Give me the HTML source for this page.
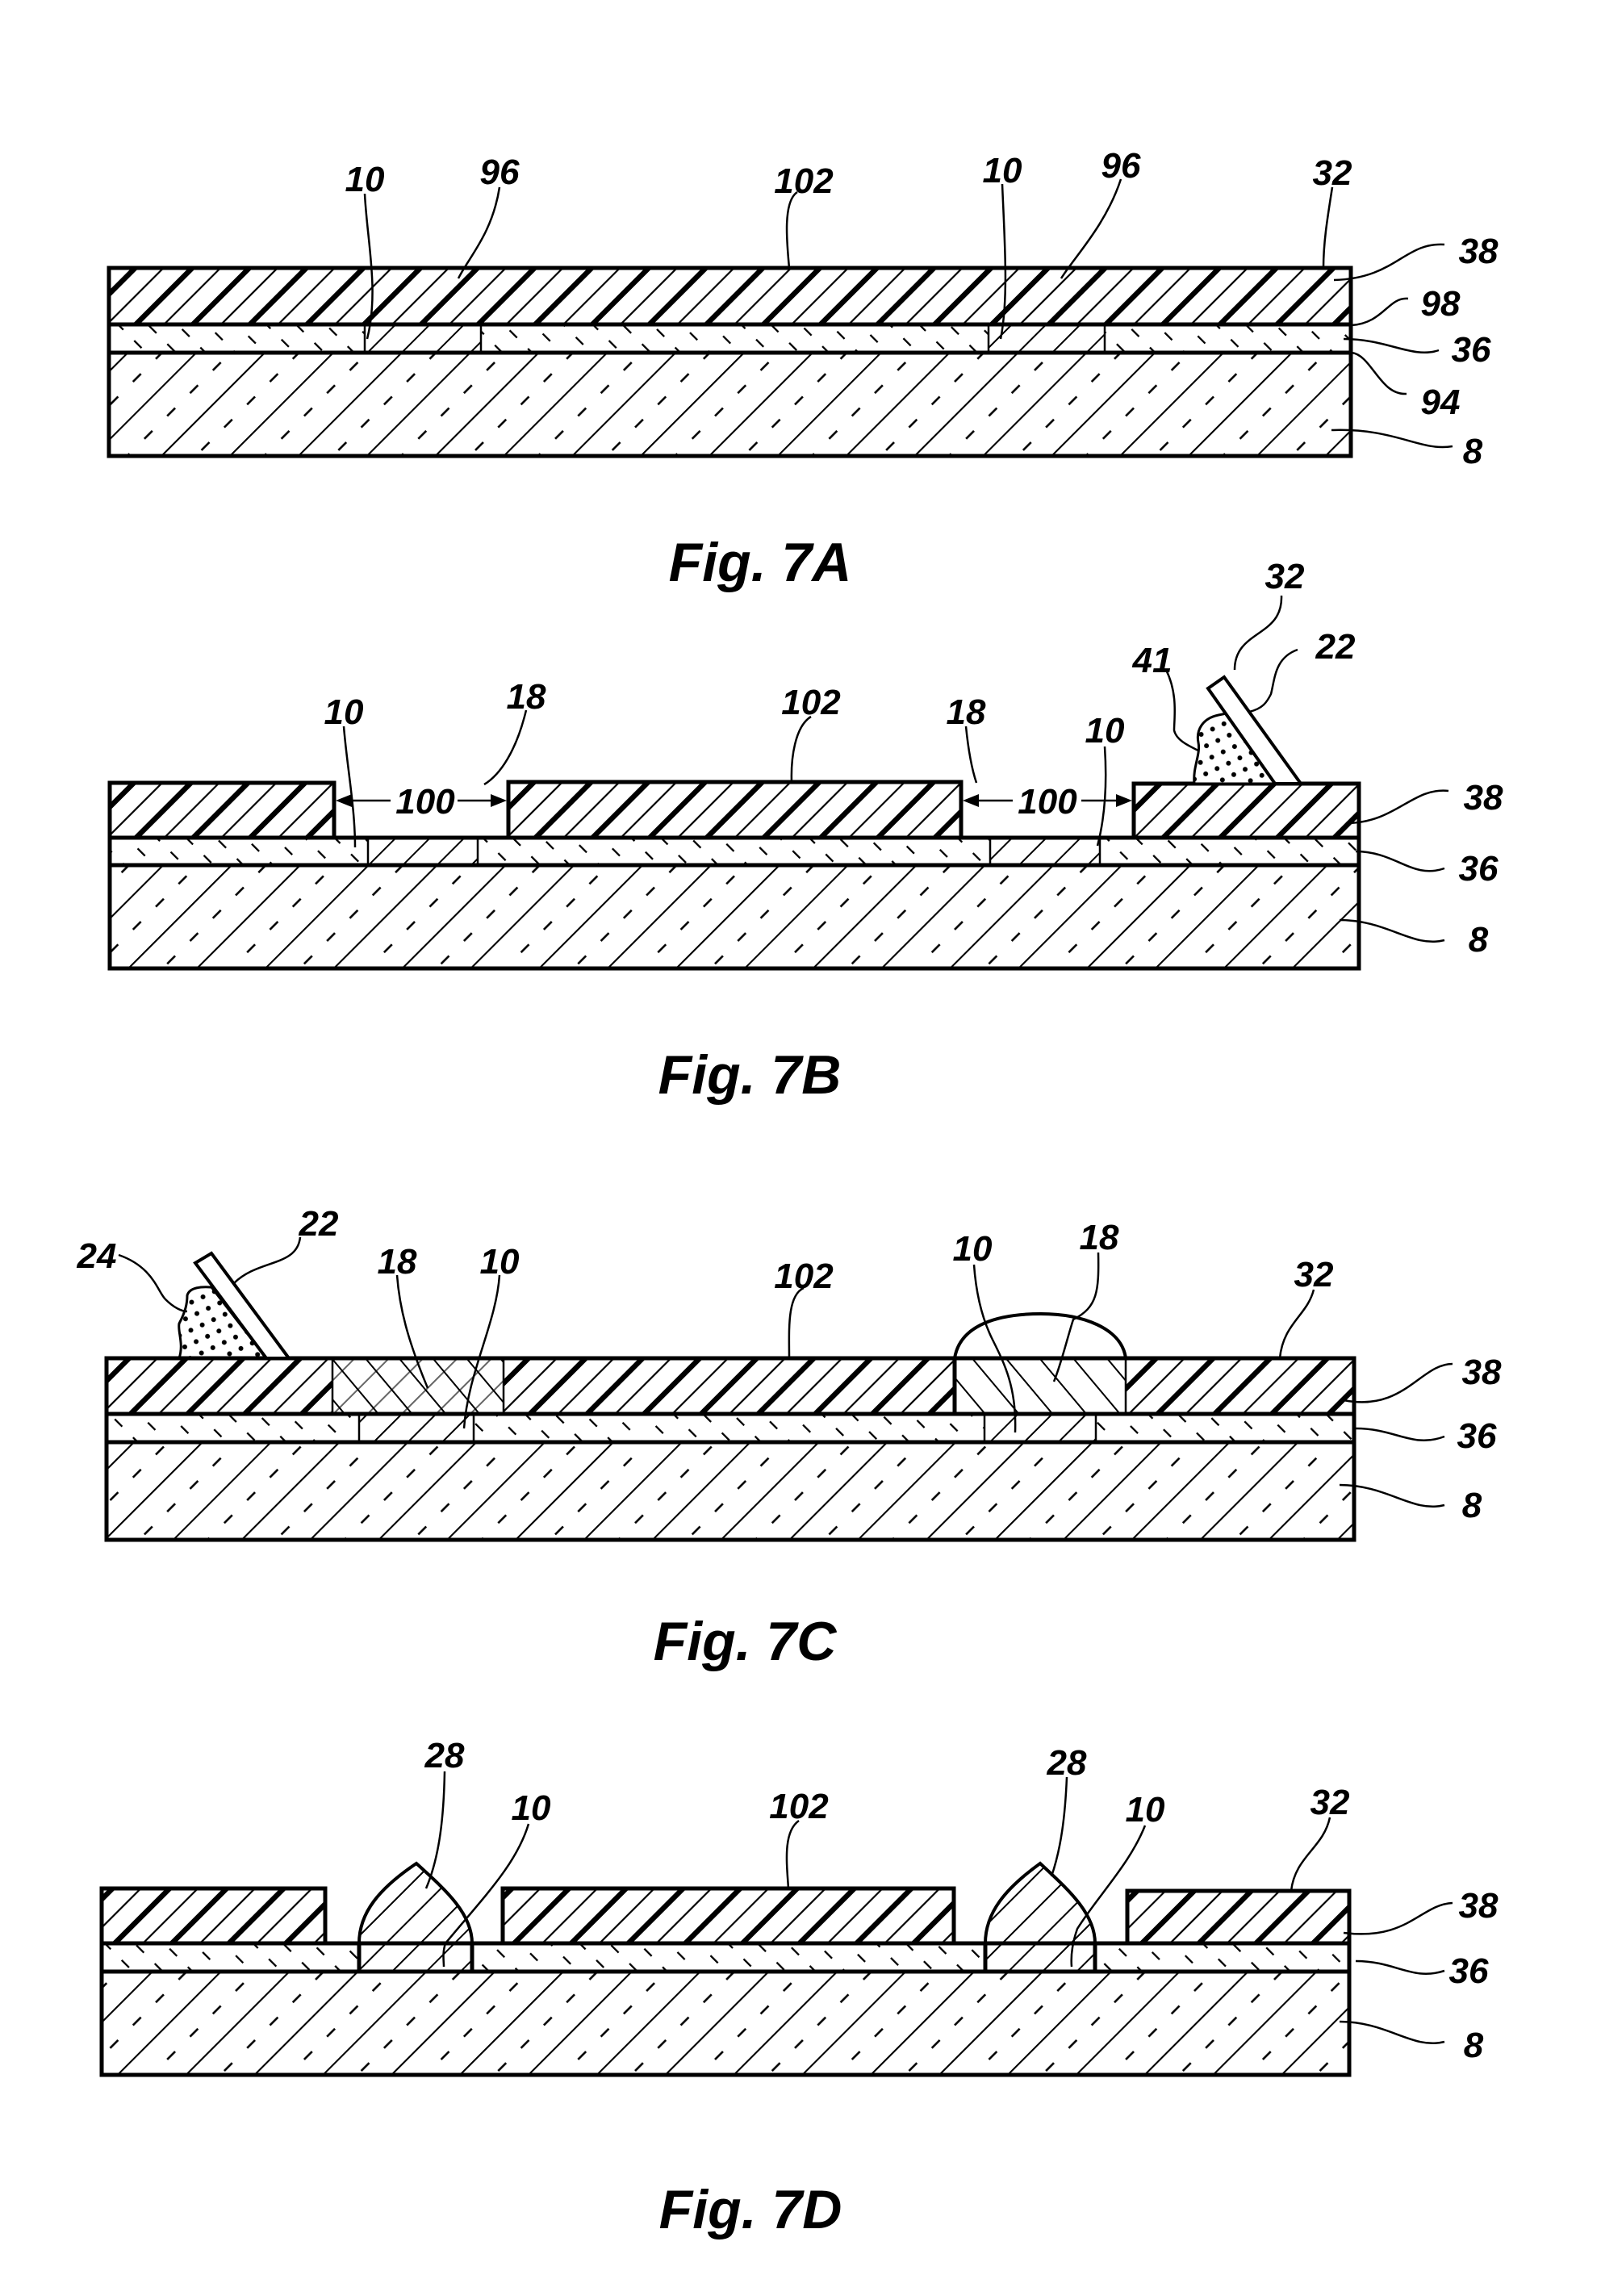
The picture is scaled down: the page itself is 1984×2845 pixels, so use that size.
<!DOCTYPE html>
<html><head><meta charset="utf-8"><style>
html,body{margin:0;padding:0;background:#fff}
svg{display:block}
text{font-family:"Liberation Sans",sans-serif;font-weight:bold;font-style:italic;fill:#000}
.l{font-size:44px;text-anchor:middle}
.f{font-size:68px;text-anchor:middle}
.ld{fill:none;stroke:#000;stroke-width:2.5}
.b{fill:none;stroke:#000;stroke-width:5}
.t{fill:none;stroke:#000;stroke-width:2.5}
</style></head><body>
<svg width="1984" height="2845" viewBox="0 0 1984 2845" xmlns="http://www.w3.org/2000/svg">
<defs>
<pattern id="p38" width="50" height="20" patternUnits="userSpaceOnUse" patternTransform="rotate(45)">
<line x1="3" y1="0" x2="3" y2="20" stroke="#000" stroke-width="7"/>
<line x1="28" y1="0" x2="28" y2="20" stroke="#000" stroke-width="2.2"/>
</pattern>
<pattern id="p8" width="60" height="40" patternUnits="userSpaceOnUse" patternTransform="rotate(45)">
<line x1="1" y1="0" x2="1" y2="40" stroke="#000" stroke-width="2.2"/>
<line x1="31" y1="4" x2="31" y2="18" stroke="#000" stroke-width="2.6"/>
</pattern>
<pattern id="p36" width="26" height="32" patternUnits="userSpaceOnUse" patternTransform="rotate(-45)">
<line x1="1" y1="0" x2="1" y2="13" stroke="#000" stroke-width="2.6"/>
</pattern>
<pattern id="p10" width="30" height="20" patternUnits="userSpaceOnUse" patternTransform="rotate(45)">
<line x1="1" y1="0" x2="1" y2="20" stroke="#000" stroke-width="2"/>
</pattern>
<pattern id="p18" width="32" height="20" patternUnits="userSpaceOnUse" patternTransform="rotate(-40)">
<line x1="1" y1="0" x2="1" y2="20" stroke="#000" stroke-width="2"/>
</pattern>
<pattern id="dots" width="22" height="22" patternUnits="userSpaceOnUse" patternTransform="rotate(20)">
<circle cx="5" cy="5" r="3" fill="#000"/><circle cx="16" cy="16" r="3" fill="#000"/>
</pattern>
</defs>

<!-- ============ FIG 7A ============ -->
<rect x="135" y="437" width="1539" height="128" fill="url(#p8)"/>
<rect x="135" y="402" width="1539" height="35" fill="url(#p36)"/>
<rect x="452" y="402" width="144" height="35" fill="#fff"/><rect x="452" y="402" width="144" height="35" fill="url(#p10)"/>
<rect x="1225" y="402" width="144" height="35" fill="#fff"/><rect x="1225" y="402" width="144" height="35" fill="url(#p10)"/>
<rect x="135" y="332" width="1539" height="70" fill="url(#p38)"/>
<rect x="135" y="332" width="1539" height="233" class="b"/>
<line x1="135" y1="402" x2="1674" y2="402" class="b"/>
<line x1="135" y1="437" x2="1674" y2="437" class="b"/>
<line x1="452" y1="402" x2="452" y2="437" class="t"/><line x1="596" y1="402" x2="596" y2="437" class="t"/>
<line x1="1225" y1="402" x2="1225" y2="437" class="t"/><line x1="1369" y1="402" x2="1369" y2="437" class="t"/>
<path class="ld" d="M452,240 C455,300 470,360 455,420"/>
<path class="ld" d="M619,232 C610,290 580,320 568,345"/>
<path class="ld" d="M988,238 C970,250 975,300 978,332"/>
<path class="ld" d="M1242,228 C1245,300 1250,370 1240,420"/>
<path class="ld" d="M1389,222 C1370,280 1330,320 1315,345"/>
<path class="ld" d="M1651,232 C1645,270 1640,300 1640,332"/>
<path class="ld" d="M1790,303 C1740,300 1730,345 1653,347"/>
<path class="ld" d="M1745,370 C1720,368 1715,400 1675,403"/>
<path class="ld" d="M1783,434 C1750,445 1720,420 1665,420"/>
<path class="ld" d="M1743,488 C1710,490 1700,440 1675,437"/>
<path class="ld" d="M1800,553 C1760,560 1730,530 1650,533"/>
<text class="l" x="452" y="237">10</text>
<text class="l" x="619" y="228">96</text>
<text class="l" x="996" y="239">102</text>
<text class="l" x="1242" y="226">10</text>
<text class="l" x="1389" y="220">96</text>
<text class="l" x="1651" y="229">32</text>
<text class="l" x="1832" y="326">38</text>
<text class="l" x="1785" y="391">98</text>
<text class="l" x="1823" y="448">36</text>
<text class="l" x="1785" y="513">94</text>
<text class="l" x="1825" y="574">8</text>
<text class="f" x="942" y="720">Fig. 7A</text>

<!-- ============ FIG 7B ============ -->
<rect x="136" y="1072" width="1548" height="128" fill="url(#p8)"/>
<rect x="136" y="1038" width="1548" height="34" fill="url(#p36)"/>
<rect x="456" y="1038" width="136" height="34" fill="#fff"/><rect x="456" y="1038" width="136" height="34" fill="url(#p10)"/>
<rect x="1227" y="1038" width="136" height="34" fill="#fff"/><rect x="1227" y="1038" width="136" height="34" fill="url(#p10)"/>
<rect x="136" y="970" width="278" height="68" fill="url(#p38)"/>
<rect x="630" y="969" width="561" height="69" fill="url(#p38)"/>
<rect x="1405" y="971" width="279" height="67" fill="url(#p38)"/>
<path class="b" d="M136,1038 V970 H414 V1038"/>
<path class="b" d="M630,1038 V969 H1191 V1038"/>
<path class="b" d="M1405,1038 V971 H1684 V1038"/>
<rect x="136" y="1038" width="1548" height="162" class="b"/>
<line x1="136" y1="1072" x2="1684" y2="1072" class="b"/>
<line x1="456" y1="1038" x2="456" y2="1072" class="t"/><line x1="592" y1="1038" x2="592" y2="1072" class="t"/>
<line x1="1227" y1="1038" x2="1227" y2="1072" class="t"/><line x1="1363" y1="1038" x2="1363" y2="1072" class="t"/>
<!-- arrows 100 -->
<line x1="428" y1="992" x2="484" y2="992" class="t"/><polygon points="416,992 436,984 436,1000"/>
<line x1="567" y1="992" x2="615" y2="992" class="t"/><polygon points="628,992 608,984 608,1000"/>
<line x1="1205" y1="992" x2="1255" y2="992" class="t"/><polygon points="1193,992 1213,984 1213,1000"/>
<line x1="1340" y1="992" x2="1390" y2="992" class="t"/><polygon points="1403,992 1383,984 1383,1000"/>
<text class="l" x="527" y="1008">100</text>
<text class="l" x="1298" y="1008">100</text>
<!-- blade + paste 41 -->
<path d="M1480,971 C1478,950 1488,935 1485,920 C1482,905 1490,890 1510,886 L1530,882 L1580,971 Z" fill="#fff"/>
<path d="M1480,971 C1478,950 1488,935 1485,920 C1482,905 1490,890 1510,886 L1530,882 L1580,971 Z" fill="url(#dots)" stroke="#000" stroke-width="3"/>
<polygon points="1497,853 1517,839 1612,971 1580,971" fill="#fff" stroke="#000" stroke-width="4"/>
<path class="ld" d="M1445,830 C1460,860 1455,890 1455,905 C1458,918 1475,925 1485,930"/>
<path class="ld" d="M1588,738 C1590,790 1530,780 1530,830"/>
<path class="ld" d="M1608,805 C1580,815 1580,840 1575,860 C1570,870 1565,878 1548,882"/>
<path class="ld" d="M426,900 C430,950 440,1000 440,1050"/>
<path class="ld" d="M652,880 C640,930 620,960 600,972"/>
<path class="ld" d="M1005,888 C985,900 980,940 981,969"/>
<path class="ld" d="M1197,900 C1200,930 1205,955 1210,970"/>
<path class="ld" d="M1369,925 C1372,970 1370,1010 1360,1048"/>
<path class="ld" d="M1795,980 C1750,975 1730,1020 1668,1020"/>
<path class="ld" d="M1790,1076 C1750,1090 1730,1055 1680,1055"/>
<path class="ld" d="M1790,1165 C1750,1175 1720,1140 1660,1140"/>
<text class="l" x="426" y="897">10</text>
<text class="l" x="652" y="878">18</text>
<text class="l" x="1005" y="885">102</text>
<text class="l" x="1197" y="897">18</text>
<text class="l" x="1369" y="920">10</text>
<text class="l" x="1428" y="833">41</text>
<text class="l" x="1592" y="729">32</text>
<text class="l" x="1655" y="816">22</text>
<text class="l" x="1838" y="1003">38</text>
<text class="l" x="1832" y="1091">36</text>
<text class="l" x="1832" y="1179">8</text>
<text class="f" x="929" y="1355">Fig. 7B</text>

<!-- ============ FIG 7C ============ -->
<rect x="132" y="1787" width="1546" height="121" fill="url(#p8)"/>
<rect x="132" y="1752" width="1546" height="35" fill="url(#p36)"/>
<rect x="445" y="1752" width="142" height="35" fill="#fff"/><rect x="445" y="1752" width="142" height="35" fill="url(#p10)"/>
<rect x="1220" y="1752" width="138" height="35" fill="#fff"/><rect x="1220" y="1752" width="138" height="35" fill="url(#p10)"/>
<rect x="132" y="1683" width="1546" height="69" fill="url(#p38)"/>
<rect x="412" y="1683" width="212" height="69" fill="#fff"/><rect x="412" y="1683" width="212" height="69" fill="url(#p18)"/><rect x="412" y="1683" width="212" height="69" fill="url(#p10)" opacity=".6"/>
<rect x="1183" y="1683" width="212" height="69" fill="#fff"/><rect x="1183" y="1683" width="212" height="69" fill="url(#p18)"/>
<rect x="132" y="1683" width="1546" height="225" class="b"/>
<line x1="132" y1="1752" x2="1678" y2="1752" class="b"/>
<line x1="132" y1="1787" x2="1678" y2="1787" class="b"/>
<line x1="412" y1="1683" x2="412" y2="1752" class="t"/><line x1="624" y1="1683" x2="624" y2="1752" class="t"/>
<line x1="1183" y1="1683" x2="1183" y2="1752" class="b"/><line x1="1395" y1="1683" x2="1395" y2="1752" class="t"/>
<line x1="445" y1="1752" x2="445" y2="1787" class="t"/><line x1="587" y1="1752" x2="587" y2="1787" class="t"/>
<line x1="1220" y1="1752" x2="1220" y2="1787" class="t"/><line x1="1358" y1="1752" x2="1358" y2="1787" class="t"/>
<path d="M1183,1683 C1190,1640 1240,1628 1290,1628 C1340,1628 1390,1645 1395,1683" fill="none" stroke="#000" stroke-width="4"/>
<!-- blade + paste 24 -->
<path d="M222,1683 C228,1665 220,1650 222,1640 C230,1625 232,1615 232,1605 C235,1595 250,1594 262,1595 L330,1683 Z" fill="url(#dots)" stroke="#000" stroke-width="3"/>
<polygon points="242,1565 262,1553 358,1683 330,1683" fill="#fff" stroke="#000" stroke-width="4"/>
<path class="ld" d="M147,1555 C190,1570 195,1600 205,1610 C215,1620 225,1625 232,1625"/>
<path class="ld" d="M372,1533 C368,1570 320,1560 290,1590"/>
<path class="ld" d="M492,1580 C495,1620 505,1660 530,1720"/>
<path class="ld" d="M619,1580 C615,1640 580,1700 575,1770"/>
<path class="ld" d="M996,1596 C975,1605 978,1650 978,1683"/>
<path class="ld" d="M1207,1567 C1210,1610 1220,1640 1230,1660 C1245,1690 1260,1720 1258,1775"/>
<path class="ld" d="M1361,1552 C1362,1600 1360,1620 1330,1635 C1322,1660 1315,1690 1306,1712"/>
<path class="ld" d="M1628,1598 C1620,1630 1590,1640 1586,1683"/>
<path class="ld" d="M1800,1690 C1760,1690 1740,1750 1665,1735"/>
<path class="ld" d="M1790,1780 C1750,1795 1730,1770 1680,1770"/>
<path class="ld" d="M1790,1865 C1750,1875 1720,1840 1660,1840"/>
<text class="l" x="120" y="1571">24</text>
<text class="l" x="395" y="1531">22</text>
<text class="l" x="492" y="1578">18</text>
<text class="l" x="619" y="1578">10</text>
<text class="l" x="996" y="1596">102</text>
<text class="l" x="1205" y="1562">10</text>
<text class="l" x="1362" y="1548">18</text>
<text class="l" x="1628" y="1594">32</text>
<text class="l" x="1836" y="1715">38</text>
<text class="l" x="1830" y="1794">36</text>
<text class="l" x="1824" y="1880">8</text>
<text class="f" x="923" y="2057">Fig. 7C</text>

<!-- ============ FIG 7D ============ -->
<rect x="126" y="2443" width="1546" height="128" fill="url(#p8)"/>
<rect x="126" y="2408" width="1546" height="35" fill="url(#p36)"/>
<rect x="445" y="2408" width="140" height="35" fill="#fff"/><rect x="445" y="2408" width="140" height="35" fill="url(#p10)"/>
<rect x="1221" y="2408" width="136" height="35" fill="#fff"/><rect x="1221" y="2408" width="136" height="35" fill="url(#p10)"/>
<rect x="126" y="2340" width="277" height="68" fill="url(#p38)"/>
<rect x="623" y="2340" width="559" height="68" fill="url(#p38)"/>
<rect x="1397" y="2343" width="275" height="65" fill="url(#p38)"/>
<path d="M445,2408 C445,2370 470,2340 516,2309 C550,2340 585,2370 585,2408 Z" fill="url(#p10)" stroke="#000" stroke-width="4"/>
<path d="M1221,2408 C1221,2370 1246,2340 1289,2309 C1322,2340 1357,2370 1357,2408 Z" fill="url(#p10)" stroke="#000" stroke-width="4"/>
<path class="b" d="M126,2408 V2340 H403 V2408"/>
<path class="b" d="M623,2408 V2340 H1182 V2408"/>
<path class="b" d="M1397,2408 V2343 H1672 V2408"/>
<rect x="126" y="2408" width="1546" height="163" class="b"/>
<line x1="126" y1="2443" x2="1672" y2="2443" class="b"/>
<line x1="445" y1="2408" x2="445" y2="2443" class="b"/><line x1="585" y1="2408" x2="585" y2="2443" class="b"/>
<line x1="1221" y1="2408" x2="1221" y2="2443" class="b"/><line x1="1357" y1="2408" x2="1357" y2="2443" class="b"/>
<path class="ld" d="M551,2195 C550,2250 545,2300 528,2340"/>
<path class="ld" d="M655,2260 C640,2310 600,2350 552,2408 C548,2420 550,2430 550,2437"/>
<path class="ld" d="M990,2256 C970,2270 975,2310 977,2340"/>
<path class="ld" d="M1322,2202 C1320,2250 1315,2290 1303,2325"/>
<path class="ld" d="M1419,2262 C1400,2310 1360,2350 1335,2390 C1328,2410 1327,2425 1328,2437"/>
<path class="ld" d="M1648,2252 C1640,2290 1605,2300 1600,2343"/>
<path class="ld" d="M1800,2358 C1760,2360 1745,2405 1665,2395"/>
<path class="ld" d="M1790,2442 C1750,2455 1730,2430 1680,2430"/>
<path class="ld" d="M1790,2530 C1750,2540 1720,2505 1660,2505"/>
<text class="l" x="551" y="2190">28</text>
<text class="l" x="658" y="2255">10</text>
<text class="l" x="990" y="2253">102</text>
<text class="l" x="1322" y="2199">28</text>
<text class="l" x="1419" y="2257">10</text>
<text class="l" x="1648" y="2248">32</text>
<text class="l" x="1832" y="2376">38</text>
<text class="l" x="1820" y="2457">36</text>
<text class="l" x="1826" y="2549">8</text>
<text class="f" x="930" y="2761">Fig. 7D</text>
</svg>
</body></html>
